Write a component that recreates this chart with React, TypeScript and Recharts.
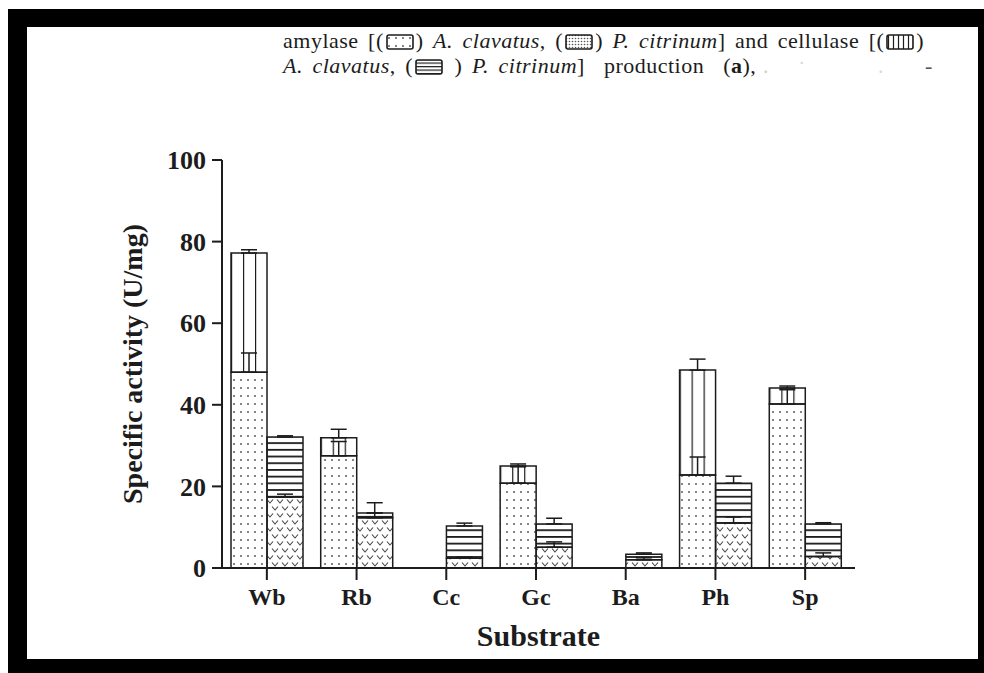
import { BarChart, Bar, XAxis, YAxis, ErrorBar, Label } from 'recharts'

const substrates = ['Wb', 'Rb', 'Cc', 'Gc', 'Ba', 'Ph', 'Sp']
// A. clavatus
const amylaseAC = [48, 27.5, 0, 20.8, 0, 22.8, 40.2]
const cellulaseAC = [29.2, 4.4, 0, 4.2, 0, 25.7, 3.9]
const errAmylaseAC = [4.7, 3.5, 0, 4.0, 0, 4.4, 3.5]
const errCellulaseAC = [0.8, 2.1, 0, 0.5, 0, 2.7, 0.5]
// P. citrinum
const amylasePC = [17.4, 12.3, 2.4, 5.1, 2.0, 11.0, 2.8]
const cellulasePC = [14.7, 1.2, 7.9, 5.7, 1.4, 9.8, 8.0]
const errAmylasePC = [0.7, 3.7, 0.3, 1.3, 0.5, 1.5, 0.9]
const errCellulasePC = [0.3, 0, 0.7, 1.4, 0.3, 1.7, 0.3]
const yTicks = [0, 20, 40, 60, 80, 100]

const data = substrates.map((name, i) => ({
  name,
  amyAC: amylaseAC[i],
  celAC: cellulaseAC[i],
  amyPC: amylasePC[i],
  celPC: cellulasePC[i],
  eAmyAC: [0, errAmylaseAC[i]],
  eCelAC: [0, errCellulaseAC[i]],
  eAmyPC: [0, errAmylasePC[i]],
  eCelPC: [0, errCellulasePC[i]],
}))

const ink = '#1c1c1c'
const serif = '"Liberation Serif", "Times New Roman", serif'
const axisText = { fill: ink, fontSize: 24, fontWeight: 'bold', fontFamily: serif }

function Patterns() {
  return (
    <svg width={0} height={0} style={{ position: 'absolute' }}>
      <defs>
        <pattern id="pDots" patternUnits="userSpaceOnUse" width={7} height={8}>
          <circle cx={3} cy={4} r={1.1} fill="#666" />
        </pattern>
        <pattern id="pDense" patternUnits="userSpaceOnUse" width={3} height={3}>
          <circle cx={1.5} cy={1.5} r={0.8} fill="#555" />
        </pattern>
        <pattern id="pHearts" patternUnits="userSpaceOnUse" width={10} height={14}>
          <path d="M2,2.5 L5,6 L8,2.5" fill="none" stroke="#444" strokeWidth={1.1} />
          <path d="M-3,9.5 L0,13 L3,9.5 M7,9.5 L10,13 L13,9.5" fill="none" stroke="#444" strokeWidth={1.1} />
        </pattern>
        <pattern id="pVlines" patternUnits="objectBoundingBox" x={0} y={0} width={0.3333} height={1}>
          <line x1={0.5} y1={0} x2={0.5} y2={2000} stroke={ink} strokeWidth={1.4} />
        </pattern>
        <pattern id="pVsw" patternUnits="userSpaceOnUse" width={5} height={20}>
          <line x1={2.5} y1={0} x2={2.5} y2={20} stroke={ink} strokeWidth={1.2} />
        </pattern>
        <pattern id="pHlines" patternUnits="userSpaceOnUse" width={10} height={6.7}>
          <rect x={0} y={0} width={10} height={1.8} fill={ink} />
        </pattern>
        <pattern id="pHsw" patternUnits="userSpaceOnUse" width={10} height={3.5}>
          <rect x={0} y={0} width={10} height={1.2} fill={ink} />
        </pattern>
      </defs>
    </svg>
  )
}

function Swatch({ fill }: { fill: string }) {
  return (
    <svg width={28} height={16} style={{ verticalAlign: '-2px', margin: '0 2px' }}>
      <rect x={1} y={1} width={26} height={14} rx={2} fill={`url(#${fill})`} stroke={ink} strokeWidth={1.6} />
    </svg>
  )
}

// faint, half-erased marks at the end of the second caption line
function Faint({ left, top, text, color }: { left: number; top: number; text: string; color: string }) {
  return <span style={{ position: 'absolute', left, top, color }}>{text}</span>
}

export default function App() {
  return (
    <div style={{ position: 'absolute', left: 0, top: 0, width: 984, height: 673, background: '#fff', overflow: 'hidden' }}>
      <Patterns />
      <div style={{ position: 'absolute', left: 8, top: 9, width: 976, height: 664, background: '#000' }} />
      <div style={{ position: 'absolute', left: 27, top: 27, width: 951, height: 632, background: '#fff' }} />

      <div
        style={{
          position: 'absolute', left: 283, top: 28, width: 660, height: 52, fontFamily: serif, fontSize: 22,
          letterSpacing: 0.5, wordSpacing: 3.5, lineHeight: '25px', color: ink, whiteSpace: 'nowrap',
        }}
      >
        <div>
          amylase [(<Swatch fill="pDots" />) <i>A. clavatus</i>, (<Swatch fill="pDense" />) <i>P. citrinum</i>] and cellulase [(<Swatch fill="pVsw" />)
        </div>
        <div>
          <i>A. clavatus</i>, (<Swatch fill="pHsw" /> ) <i>P. citrinum</i>]&nbsp; production&nbsp; (<b>a</b>),
        </div>
        <Faint left={480} top={25} text="." color="#cfcfcf" />
        <Faint left={515} top={28} text={'\u02d9'} color="#d8d8d8" />
        <Faint left={595} top={25} text="." color="#d8d8d8" />
        <Faint left={642} top={25} text="-" color="#555" />
      </div>

      <div style={{ position: 'absolute', left: 0, top: 0 }}>
        <BarChart
          width={984}
          height={673}
          data={data}
          margin={{ top: 160, right: 129, bottom: 65, left: 162 }}
          barGap={0}
          barSize={36}
        >
          <XAxis
            dataKey="name"
            height={40}
            padding={{ left: 0, right: 5 }}
            interval={0}
            tickSize={12}
            tickMargin={8}
            axisLine={{ stroke: ink, strokeWidth: 2 }}
            tickLine={{ stroke: ink, strokeWidth: 2 }}
            tick={axisText}
          >
            <Label value="Substrate" position="bottom" offset={17} style={{ fill: ink, fontSize: 30, fontWeight: 'bold', fontFamily: serif }} />
          </XAxis>
          <YAxis
            width={60}
            domain={[0, 100]}
            ticks={yTicks}
            tickSize={10}
            tickMargin={6}
            axisLine={{ stroke: ink, strokeWidth: 2 }}
            tickLine={{ stroke: ink, strokeWidth: 2 }}
            tick={{ ...axisText, fontSize: 26 }}
          >
            <Label
              value="Specific activity (U/mg)"
              angle={-90}
              position="insideLeft"
              offset={-30}
              style={{ fill: ink, fontSize: 28, fontWeight: 'bold', fontFamily: serif, textAnchor: 'middle' }}
            />
          </YAxis>
          <Bar dataKey="amyAC" stackId="ac" fill="url(#pDots)" stroke={ink} strokeWidth={1.5} isAnimationActive={false}>
            <ErrorBar dataKey="eAmyAC" width={8} stroke={ink} strokeWidth={1.5} />
          </Bar>
          <Bar dataKey="celAC" stackId="ac" fill="url(#pVlines)" stroke={ink} strokeWidth={1.5} isAnimationActive={false}>
            <ErrorBar dataKey="eCelAC" width={8} stroke={ink} strokeWidth={1.5} />
          </Bar>
          <Bar dataKey="amyPC" stackId="pc" fill="url(#pHearts)" stroke={ink} strokeWidth={1.5} isAnimationActive={false}>
            <ErrorBar dataKey="eAmyPC" width={8} stroke={ink} strokeWidth={1.5} />
          </Bar>
          <Bar dataKey="celPC" stackId="pc" fill="url(#pHlines)" stroke={ink} strokeWidth={1.5} isAnimationActive={false}>
            <ErrorBar dataKey="eCelPC" width={8} stroke={ink} strokeWidth={1.5} />
          </Bar>
        </BarChart>
      </div>
    </div>
  )
}
